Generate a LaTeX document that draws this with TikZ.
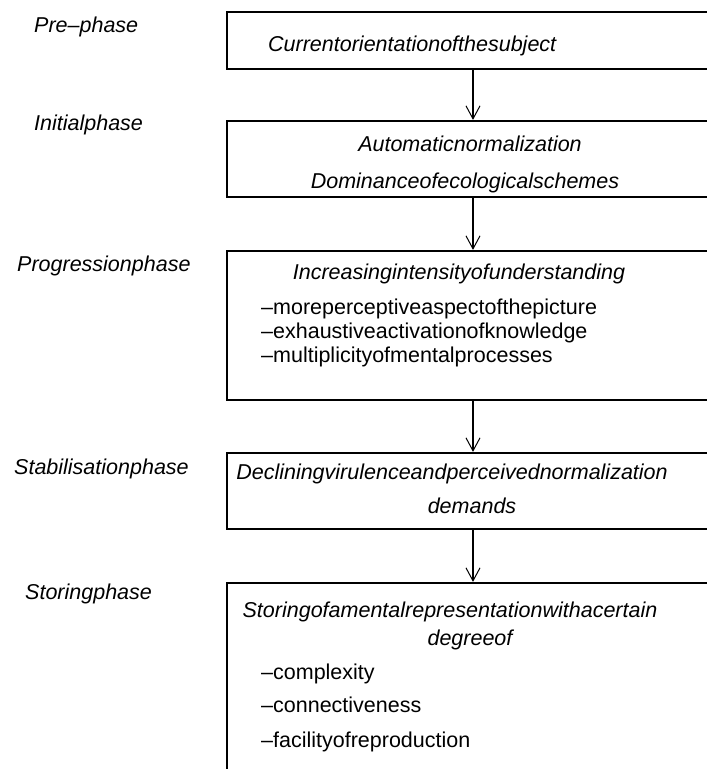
\documentclass[tikz,border=0pt]{standalone}
\usepackage{fontspec}
\setmainfont{Liberation Sans}
\usetikzlibrary{arrows.meta}
\begin{document}
\begin{tikzpicture}[x=1pt,y=-1pt,
  phasebox/.style={draw,line width=2.2pt,rectangle,inner sep=0pt,minimum width=492pt},
  lbl/.style={inner sep=0pt,anchor=base west,font=\fontsize{21.5}{26}\selectfont\itshape},
  head/.style={inner sep=0pt,anchor=base,font=\fontsize{21.5}{26}\selectfont\itshape},
  headl/.style={inner sep=0pt,anchor=base west,font=\fontsize{21.5}{26}\selectfont\itshape},
  item/.style={inner sep=0pt,anchor=base west,font=\fontsize{21.5}{26}\selectfont},
  flow/.style={line width=1.4pt,-{Straight Barb[length=13pt,width=14pt,line width=1pt]}}]
\clip (0,0) rectangle (707,769);
\fill[white] (0,0) rectangle (707,769);
% boxes
\node[phasebox,minimum height=57pt] (b1) at (473,40.5) {};
\node[phasebox,minimum height=76pt] (b2) at (473,159) {};
\node[phasebox,minimum height=149pt] (b3) at (473,325.5) {};
\node[phasebox,minimum height=76pt] (b4) at (473,491) {};
\node[phasebox,minimum height=217pt] (b5) at (473,691.5) {};
% phase labels
\node[lbl] (l1) at (34,32) {Pre–phase};
\node[lbl] (l2) at (34,130) {Initialphase};
\node[lbl] (l3) at (17,271) {Progressionphase};
\node[lbl] (l4) at (14,474) {Stabilisationphase};
\node[lbl] (l5) at (25,599) {Storingphase};
% box texts
\node[headl] (t1) at (268,51) {Currentorientationofthesubject};
\node[head] (t2a) at (470,151) {Automaticnormalization};
\node[head] (t2b) at (465,188) {Dominanceofecologicalschemes};
\node[head] (t3) at (459,279) {Increasingintensityofunderstanding};
\node[item] (t3a) at (261,314) {–moreperceptiveaspectofthepicture};
\node[item] (t3b) at (261,338) {–exhaustiveactivationofknowledge};
\node[item] (t3c) at (261,362) {–multiplicityofmentalprocesses};
\node[head] (t4a) at (452,479) {Decliningvirulenceandperceivednormalization};
\node[head] (t4b) at (472,513) {demands};
\node[head] (t5a) at (450,617) {Storingofamentalrepresentationwithacertain};
\node[head] (t5b) at (470,645) {degreeof};
\node[item] (t5c) at (261,679) {–complexity};
\node[item] (t5d) at (261,712) {–connectiveness};
\node[item] (t5e) at (261,747) {–facilityofreproduction};
% connectors
\draw[flow] (b1.south) -- (b2.north);
\draw[flow] (b2.south) -- (b3.north);
\draw[flow] (b3.south) -- (b4.north);
\draw[flow] (b4.south) -- (b5.north);
\end{tikzpicture}
\end{document}
